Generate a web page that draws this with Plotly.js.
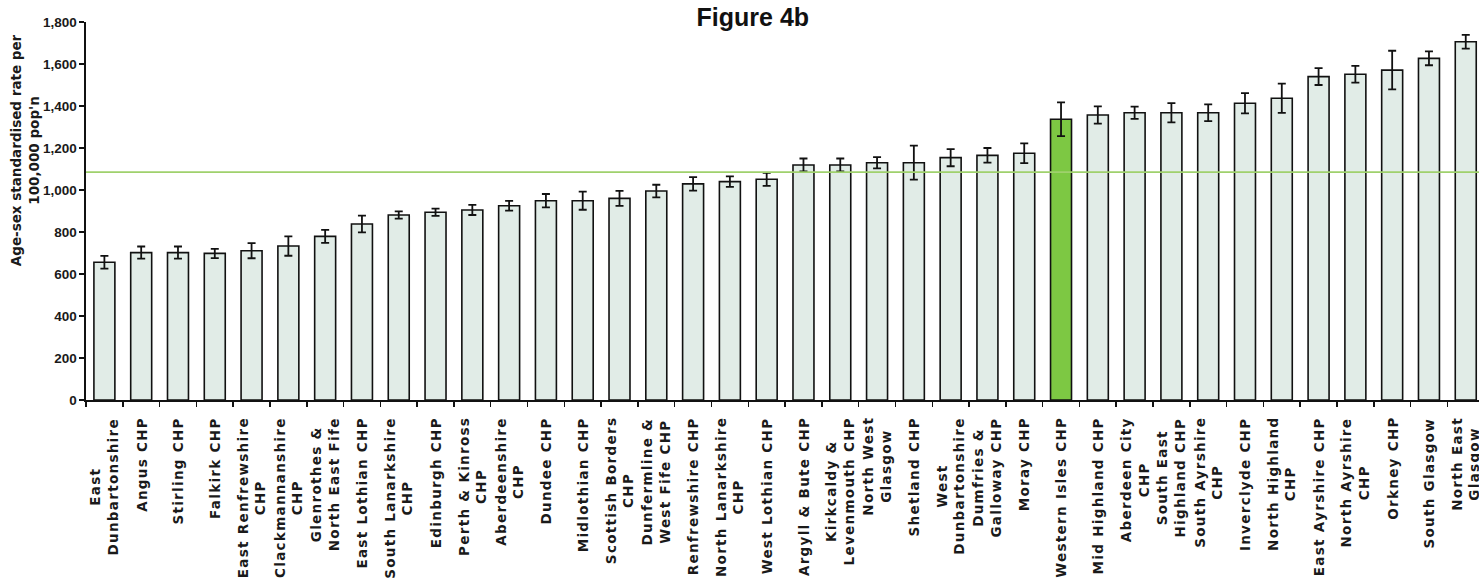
<!DOCTYPE html>
<html>
<head>
<meta charset="utf-8">
<script src="https://cdn.plot.ly/plotly-3.0.1.min.js"></script>
<style>
  html, body { margin: 0; padding: 0; background: #ffffff; overflow: hidden; }
  #chart { width: 1479px; height: 583px; }
</style>
</head>
<body>
<div id="chart"></div>
<script>
// CHP areas, ordered by rate
const categories = [
  "East Dunbartonshire", "Angus CHP", "Stirling CHP", "Falkirk CHP",
  "East Renfrewshire CHP", "Clackmannanshire CHP", "Glenrothes & North East Fife",
  "East Lothian CHP", "South Lanarkshire CHP", "Edinburgh CHP", "Perth & Kinross CHP",
  "Aberdeenshire CHP", "Dundee CHP", "Midlothian CHP", "Scottish Borders CHP",
  "Dunfermline & West Fife CHP", "Renfrewshire CHP", "North Lanarkshire CHP",
  "West Lothian CHP", "Argyll & Bute CHP", "Kirkcaldy & Levenmouth CHP",
  "North West Glasgow", "Shetland CHP", "West Dunbartonshire",
  "Dumfries & Galloway CHP", "Moray CHP", "Western Isles CHP", "Mid Highland CHP",
  "Aberdeen City CHP", "South East Highland CHP", "South Ayrshire CHP",
  "Inverclyde CHP", "North Highland CHP", "East Ayrshire CHP", "North Ayrshire CHP",
  "Orkney CHP", "South Glasgow", "North East Glasgow"
];

// Wrapped labels shown under the axis
const tickLabels = [
  "East<br>Dunbartonshire", "Angus CHP", "Stirling CHP", "Falkirk CHP",
  "East Renfrewshire<br>CHP", "Clackmannanshire<br>CHP", "Glenrothes &<br>North East Fife",
  "East Lothian CHP", "South Lanarkshire<br>CHP", "Edinburgh CHP", "Perth & Kinross<br>CHP",
  "Aberdeenshire<br>CHP", "Dundee CHP", "Midlothian CHP", "Scottish Borders<br>CHP",
  "Dunfermline &<br>West Fife CHP", "Renfrewshire CHP", "North Lanarkshire<br>CHP",
  "West Lothian CHP", "Argyll & Bute CHP", "Kirkcaldy &<br>Levenmouth CHP",
  "North West<br>Glasgow", "Shetland CHP", "West<br>Dunbartonshire",
  "Dumfries &<br>Galloway CHP", "Moray CHP", "Western Isles CHP", "Mid Highland CHP",
  "Aberdeen City<br>CHP", "South East<br>Highland CHP", "South Ayrshire<br>CHP",
  "Inverclyde CHP", "North Highland<br>CHP", "East Ayrshire CHP", "North Ayrshire<br>CHP",
  "Orkney CHP", "South Glasgow", "North East<br>Glasgow"
];

// Age-sex standardised rate per 100,000 population
const rates = [
  656, 702, 702, 698, 711, 733, 779, 838, 881, 894, 905, 925, 949,
  949, 960, 995, 1029, 1040, 1051, 1119, 1119, 1130, 1130, 1154, 1165, 1175,
  1337, 1357, 1368, 1368, 1368, 1413, 1437, 1540, 1551, 1571, 1627, 1706
];

// Half-width of the 95% confidence interval
const ciHalf = [
  30, 29, 29, 22, 36, 46, 31, 40, 17, 17, 24, 23, 32,
  43, 36, 30, 32, 25, 31, 31, 31, 27, 81, 41, 35, 47,
  80, 41, 29, 46, 40, 48, 70, 40, 40, 92, 33, 33
];

// Scotland-wide rate
const scotlandRate = 1085;
const highlighted = "Western Isles CHP";

const barFill = "#e1ece7";
const highlightFill = "#7dc843";

const barColors = categories.map(c => c === highlighted ? highlightFill : barFill);

const trace = {
  type: "bar",
  x: categories,
  y: rates,
  marker: {
    color: barColors,
    line: { color: "#111111", width: 1.6 }
  },
  error_y: {
    type: "data",
    array: ciHalf,
    visible: true,
    color: "#111111",
    thickness: 1.8,
    width: 4
  },
  hoverinfo: "x+y"
};

// Spaced-out lettering for the category names
const spaced = s => s.split("<br>")
  .map(line => '<span style="letter-spacing:1.3px">' + line + "</span>")
  .join("<br>");

const labelAnnotations = categories.map((c, i) => ({
  x: c,
  xref: "x",
  y: -0.04,
  yref: "paper",
  text: spaced(tickLabels[i]),
  textangle: -90,
  showarrow: false,
  xanchor: "center",
  yanchor: "top",
  align: "center",
  font: { family: "DejaVu Sans, sans-serif", size: 13.5, color: "#1a1a1a", weight: "bold" }
}));

const yTitle = {
  text: "Age-sex standardised rate per<br>100,000 pop'n",
  xref: "paper",
  x: -0.044,
  yref: "paper",
  y: 0.66,
  textangle: -90,
  showarrow: false,
  xanchor: "center",
  yanchor: "middle",
  align: "center",
  font: { family: "DejaVu Sans, sans-serif", size: 13.5, color: "#1a1a1a", weight: "bold" }
};

const layout = {
  width: 1479,
  height: 583,
  margin: { l: 86, r: 0, t: 22, b: 183, pad: 0 },
  paper_bgcolor: "#ffffff",
  plot_bgcolor: "#ffffff",
  showlegend: false,
  bargap: 0.43,
  title: {
    text: "Figure 4b",
    xref: "container",
    x: 0.509,
    xanchor: "center",
    yref: "container",
    y: 0.97,
    yanchor: "middle",
    font: { family: "Liberation Sans, Arial, sans-serif", size: 25, color: "#111111", weight: "bold" }
  },
  xaxis: {
    type: "category",
    range: [-0.5, 37.36],
    showticklabels: false,
    ticks: "outside",
    tickson: "boundaries",
    ticklen: 5,
    tickwidth: 1.5,
    tickcolor: "#111111",
    showline: true,
    linecolor: "#111111",
    linewidth: 1.6,
    showgrid: false,
    zeroline: false,
    fixedrange: true
  },
  yaxis: {
    range: [0, 1800],
    dtick: 200,
    tick0: 0,
    tickformat: ",d",
    ticks: "outside",
    ticklen: 5,
    tickwidth: 1.5,
    tickcolor: "#111111",
    showline: true,
    linecolor: "#111111",
    linewidth: 1.6,
    showgrid: false,
    zeroline: false,
    tickfont: { family: "Liberation Sans, Arial, sans-serif", size: 13.5, color: "#1a1a1a", weight: "bold" },
    fixedrange: true
  },
  shapes: [{
    type: "line",
    xref: "paper", x0: 0, x1: 1,
    yref: "y", y0: scotlandRate, y1: scotlandRate,
    line: { color: "#9fd16c", width: 1.6 },
    layer: "above"
  }],
  annotations: labelAnnotations.concat([yTitle])
};

Plotly.newPlot("chart", [trace], layout, { displayModeBar: false, staticPlot: true });
</script>
</body>
</html>
